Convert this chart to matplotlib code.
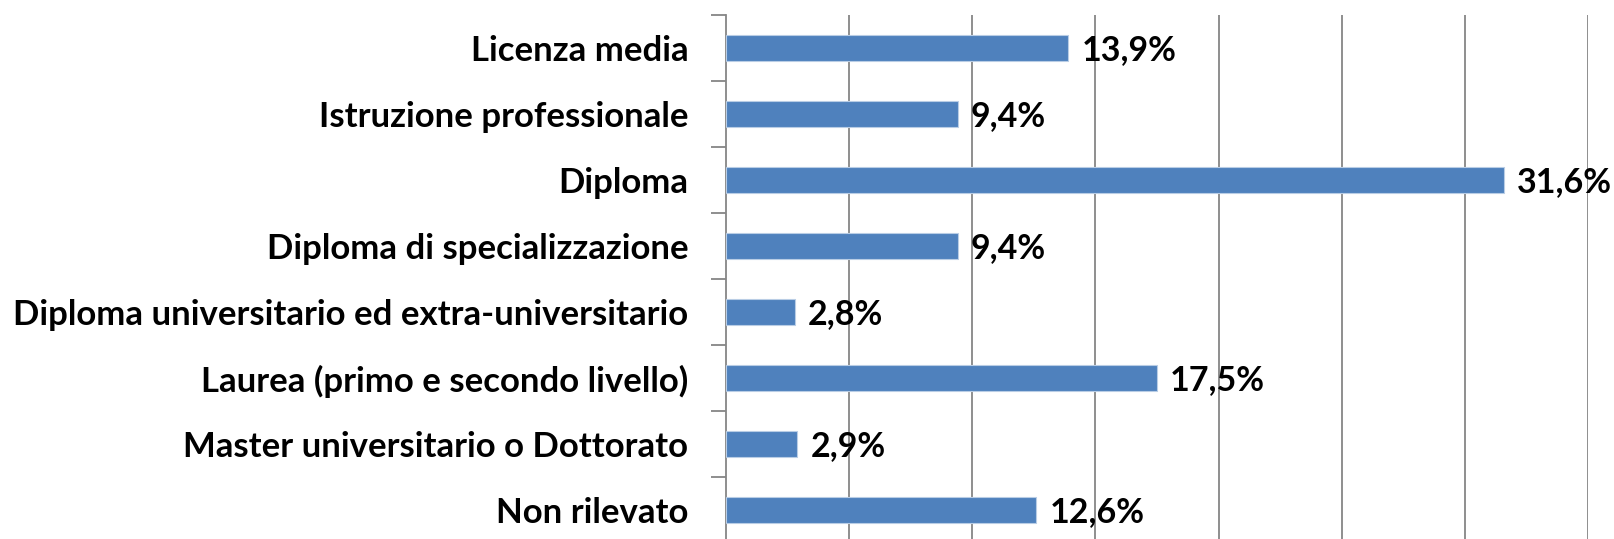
import matplotlib
matplotlib.use("Agg")
import matplotlib.pyplot as plt

categories = ["Licenza media", "Istruzione professionale", "Diploma",
              "Diploma di specializzazione",
              "Diploma universitario ed extra-universitario",
              "Laurea (primo e secondo livello)",
              "Master universitario o Dottorato", "Non rilevato"]
values = [13.9, 9.4, 31.6, 9.4, 2.8, 17.5, 2.9, 12.6]
value_labels = ["13,9%", "9,4%", "31,6%", "9,4%", "2,8%", "17,5%", "2,9%", "12,6%"]

plt.rcParams['font.family'] = ['Lato', 'DejaVu Sans']
W, H = 1615, 539
fig = plt.figure(figsize=(W/100, H/100), dpi=100)
ax = fig.add_axes([726/W, (H-543)/H, (1588-726)/W, 528/H])

n = len(categories)
ys = list(range(n))
ax.barh(ys, values, height=0.4, color="#4F81BD", edgecolor="#B9CDE5", linewidth=0.8, zorder=3)
ax.set_ylim(n-0.5, -0.5)
ax.set_xlim(0, 35)
ax.set_xticks([5, 10, 15, 20, 25, 30, 35])
ax.xaxis.grid(True, color="#868686", linewidth=1.3, zorder=0)
ax.tick_params(axis='x', length=0, labelbottom=False)
ax.set_yticks([i - 0.5 for i in range(n+1)], minor=False)
ax.set_yticklabels([])
ax.set_yticks(ys, minor=True)
ax.set_yticklabels(categories, minor=True, fontsize=25, fontweight='bold')
ax.tick_params(axis='y', which='major', length=11, width=1.3, color="#868686", direction='out')
ax.tick_params(axis='y', which='minor', length=0, pad=27)
for s in ['top', 'right', 'bottom']:
    ax.spines[s].set_visible(False)
ax.spines['left'].set_color("#868686")
ax.spines['left'].set_linewidth(1.3)

for y, v, lab in zip(ys, values, value_labels):
    ax.annotate(lab, (v, y), xytext=(13, -2), textcoords='offset pixels',
                va='center', ha='left', fontsize=24.5, fontweight='bold', color='black')

fig.savefig("out.png", dpi=100)
